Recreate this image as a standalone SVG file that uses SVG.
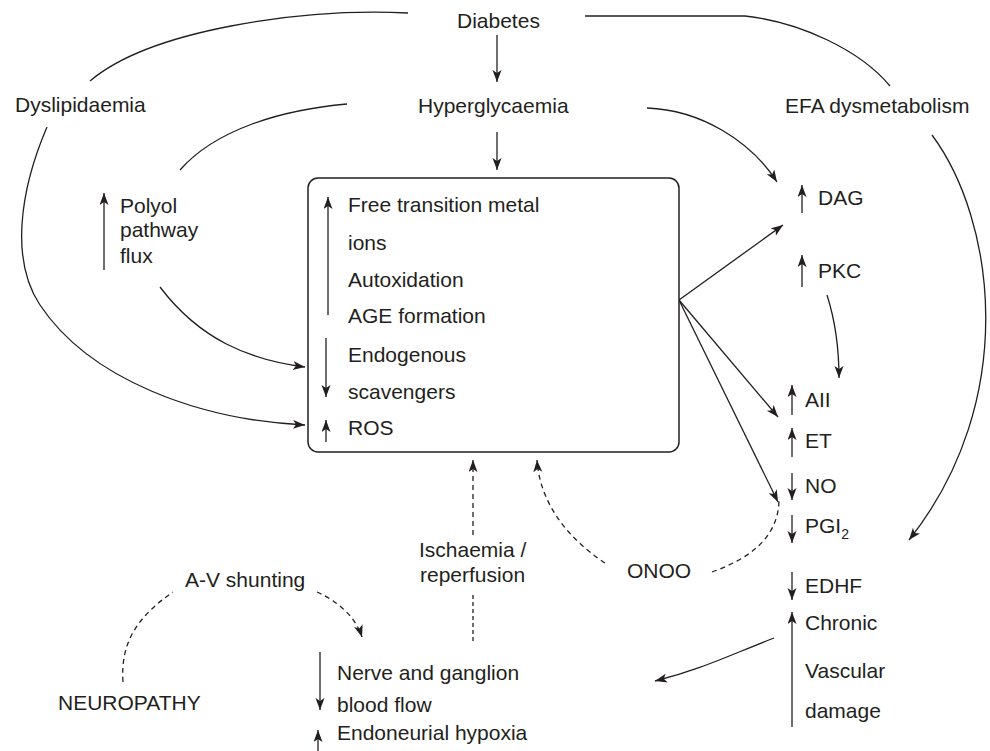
<svg xmlns="http://www.w3.org/2000/svg" width="990" height="751" viewBox="0 0 990 751">
<style>
text{font-family:"Liberation Sans",Arial,sans-serif;font-size:21px;fill:#231f20}
.c{fill:none;stroke:#231f20;stroke-width:1.3}
.a{marker-end:url(#ah)}
.d{stroke-dasharray:5,4}
.dd{stroke-dasharray:4,3}
.box{fill:#fff;stroke:#231f20;stroke-width:1.5}
</style>
<defs>
<marker id="ah" markerUnits="userSpaceOnUse" markerWidth="13" markerHeight="10" refX="12" refY="4.5" orient="auto">
<path d="M0,0 L12,4.5 L0,9 L3,4.5 z" fill="#231f20"/>
</marker>
</defs>
<rect width="990" height="751" fill="#fff"/>

<g id="connectors">
<path class="c" d="M408,13 C300,8 150,30 90,81"/>
<path class="c" d="M347,104 C280,110 215,130 180,170"/>
<path class="c a" d="M47,127 C20,190 10,260 40,305 C90,380 200,420 305,425"/>
<path class="c a" d="M160,287 C200,340 250,360 305,367"/>
<path class="c a" d="M497,35 L497,82"/>
<path class="c a" d="M497,132 L497,170"/>
<path class="c a" d="M647,108 C700,110 750,140 777,182"/>
<path class="c" d="M585,16 L745,16 C800,22 860,50 890,86"/>
<path class="c a" d="M932,135 C995,220 1020,400 909,540"/>
<path class="c a" d="M679,300 L783,225"/>
<path class="c a" d="M679,300 L778,417"/>
<path class="c a" d="M679,300 L778,502"/>
<path class="c a" d="M827,295 C835,320 839,350 839,378"/>
<path class="c a d" d="M473,535 L473,460"/>
<path class="c dd" d="M473,595 L473,643"/>
<path class="c a d" d="M605,563 C570,540 540,505 537,460"/>
<path class="c d" d="M712,572 C745,560 780,540 779,497"/>
<path class="c a" d="M774,638 C730,655 700,670 655,681"/>
<path class="c d" d="M123,682 C120,640 140,615 173,592"/>
<path class="c a d" d="M317,592 C335,600 355,615 362,637"/>
</g>

<g id="diabetes"><text x="457" y="28">Diabetes</text></g>
<g id="hyperglycaemia"><text x="418" y="113">Hyperglycaemia</text></g>
<g id="dyslipidaemia"><text x="15" y="112">Dyslipidaemia</text></g>
<g id="efa"><text x="785" y="113">EFA dysmetabolism</text></g>

<g id="polyol">
<path class="c a" d="M104,270 L104,193"/>
<text x="120" y="213">Polyol</text>
<text x="120" y="237">pathway</text>
<text x="120" y="263">flux</text>
</g>

<g id="ros-box">
<rect class="box" x="308" y="178" width="371" height="274" rx="10"/>
<path class="c a" d="M328,315 L328,197"/>
<path class="c a" d="M326,338 L326,397"/>
<path class="c a" d="M326,442 L326,420"/>
<text x="348" y="212">Free transition metal</text>
<text x="348" y="250">ions</text>
<text x="348" y="287">Autoxidation</text>
<text x="348" y="323">AGE formation</text>
<text x="348" y="362">Endogenous</text>
<text x="348" y="399">scavengers</text>
<text x="348" y="435">ROS</text>
</g>

<g id="dag"><path class="c a" d="M802,213 L802,185"/><text x="818" y="205">DAG</text></g>
<g id="pkc"><path class="c a" d="M802,287 L802,255"/><text x="818" y="278">PKC</text></g>
<g id="aii"><path class="c a" d="M792,415 L792,385"/><text x="805" y="407">AII</text></g>
<g id="et"><path class="c a" d="M792,457 L792,428"/><text x="805" y="448">ET</text></g>
<g id="no"><path class="c a" d="M792,473 L792,500"/><text x="805" y="493">NO</text></g>
<g id="pgi2"><path class="c a" d="M792,515 L792,543"/><text x="805" y="533">PGI<tspan font-size="14" dy="6">2</tspan></text></g>
<g id="edhf"><path class="c a" d="M792,572 L792,600"/><text x="805" y="593">EDHF</text></g>
<g id="chronic">
<path class="c a" d="M792,727 L792,612"/>
<text x="805" y="630">Chronic</text>
<text x="805" y="678">Vascular</text>
<text x="805" y="718">damage</text>
</g>

<g id="ischaemia">
<text x="419" y="557">Ischaemia /</text>
<text x="420" y="582">reperfusion</text>
</g>
<g id="onoo"><text x="627" y="578">ONOO</text></g>
<g id="av-shunting"><text x="185" y="587">A-V shunting</text></g>
<g id="neuropathy"><text x="58" y="710">NEUROPATHY</text></g>
<g id="blood-flow">
<path class="c a" d="M320,652 L320,710"/>
<path class="c a" d="M318,751 L318,730"/>
<text x="337" y="680">Nerve and ganglion</text>
<text x="337" y="712">blood flow</text>
<text x="337" y="740">Endoneurial hypoxia</text>
</g>
</svg>
